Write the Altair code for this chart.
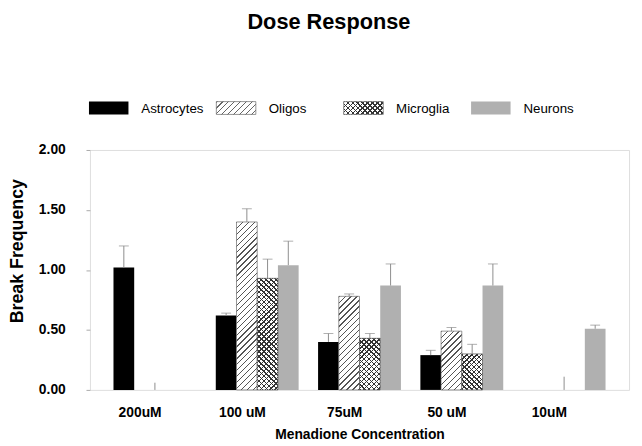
import altair as alt
import pandas as pd
import numpy as np

# ---------------- data ----------------
doses = ["200uM", "100 uM", "75uM", "50 uM", "10uM"]
series = ["Astrocytes", "Oligos", "Microglia", "Neurons"]
astro_mean = [1.02, 0.62, 0.40, 0.29, None]
astro_err = [0.18, 0.02, 0.07, 0.04, None]
oligos_mean = [None, 1.40, 0.78, 0.49, None]
oligos_err = [None, 0.11, 0.02, 0.03, None]
microglia_mean = [None, 0.93, 0.43, 0.30, None]
microglia_err = [None, 0.16, 0.04, 0.08, None]
neurons_mean = [None, 1.04, 0.87, 0.87, 0.51]
neurons_err = [None, 0.20, 0.18, 0.18, 0.03]
stray_doses = ["200uM", "10uM"]
stray_values = [0.06, 0.11]
y_ticks = [0.0, 0.5, 1.0, 1.5, 2.0]

means = {"Astrocytes": astro_mean, "Oligos": oligos_mean,
         "Microglia": microglia_mean, "Neurons": neurons_mean}
errs = {"Astrocytes": astro_err, "Oligos": oligos_err,
        "Microglia": microglia_err, "Neurons": neurons_err}

rows = []
for s in series:
    for d, m, e in zip(doses, means[s], errs[s]):
        if m is not None:
            rows.append({"dose": d, "series": s, "mean": m, "upper": m + e})
df = pd.DataFrame(rows)
stray_df = pd.DataFrame({"dose": stray_doses, "v": stray_values, "v0": [0.0] * len(stray_values)})

# ---------------- layout constants ----------------
W, H = 546, 243
PAD_IN, PAD_OUT = 0.19, 0.23
step = W / (len(doses) - PAD_IN + 2 * PAD_OUT)
bar_w = step * (1 - PAD_IN) / len(series)
FONT = "Liberation Sans"
GRAY_BAR = "#b0b0b0"
ERR_COL = "#8c8c8c"


def hatch(w, h, period, frac, line, bg, direction):
    """Linear gradient that draws diagonal stripes inside a w x h box."""
    total = w + h
    n = int(np.ceil(total / period))
    stops = []
    for k in range(n):
        a = min(k * period / total, 1)
        b = min((k * period + period * frac) / total, 1)
        c = min((k + 1) * period / total, 1)
        stops += [{"offset": a, "color": line}, {"offset": b, "color": line},
                  {"offset": b, "color": bg}, {"offset": c, "color": bg}]
    cc = w * (w + h) / (w * w + h * h)
    if direction == "/":
        x1, y1, x2, y2 = 0, 0, cc, cc * h / w
    else:
        x1, y1, x2, y2 = 0, 1, cc, 1 - cc * h / w
    return {"gradient": "linear", "x1": x1, "y1": y1, "x2": x2, "y2": y2, "stops": stops}


# ---------------- main chart ----------------
x_enc = alt.X("dose:N", sort=doses,
              scale=alt.Scale(domain=doses, paddingInner=PAD_IN, paddingOuter=PAD_OUT),
              axis=alt.Axis(title="Menadione Concentration", labelAngle=0, labelFontSize=14,
                            labelFontWeight="bold", labelFont=FONT, labelColor="black",
                            labelPadding=16, labelOffset=-15, ticks=False, domain=False,
                            titleFontSize=14, titleFontWeight="bold", titleFont=FONT,
                            titleColor="black", titlePadding=8))
xo_enc = alt.XOffset("series:N", scale=alt.Scale(domain=series, paddingInner=0, paddingOuter=0))
y_axis = alt.Axis(values=y_ticks, format=".2f", title="Break Frequency", grid=False,
                  domain=False, tickSize=4, tickColor="#aaaaaa", labelFontSize=14,
                  labelFontWeight="bold", labelFont=FONT, labelColor="black", labelPadding=21,
                  titleFontSize=18, titleFontWeight="bold", titleFont=FONT, titleColor="black",
                  titleX=-73, titleY=102, titleAngle=270, titleAlign="center",
                  titleBaseline="middle")
y_scale = alt.Scale(domain=[0, 2], nice=False, zero=True)


def ymean():
    return alt.Y("mean:Q", scale=y_scale, axis=y_axis)


base = alt.Chart(df)
layers = []
solid = base.transform_filter(
    alt.FieldOneOfPredicate(field="series", oneOf=["Astrocytes", "Neurons"])
).mark_bar().encode(
    x=x_enc, xOffset=xo_enc, y=ymean(),
    color=alt.Color("series:N", scale=alt.Scale(domain=["Astrocytes", "Neurons"],
                                                range=["black", GRAY_BAR]), legend=None))
layers.append(solid)

for _, r in df.iterrows():
    h = r["mean"] / 2 * H
    flt = (alt.datum.series == r["series"]) & (alt.datum.dose == r["dose"])
    if r["series"] == "Oligos":
        g = hatch(bar_w, h, 6, 0.22, "#555555", "white", "/")
        layers.append(base.transform_filter(flt).mark_bar(
            fill=g, stroke="#666666", strokeWidth=0.7).encode(x=x_enc, xOffset=xo_enc, y=ymean()))
    elif r["series"] == "Microglia":
        g1 = hatch(bar_w, h, 5, 0.3, "#333333", "white", "/")
        g2 = hatch(bar_w, h, 5, 0.3, "#333333", "rgba(255,255,255,0)", "\\")
        layers.append(base.transform_filter(flt).mark_bar(fill=g1).encode(
            x=x_enc, xOffset=xo_enc, y=ymean()))
        layers.append(base.transform_filter(flt).mark_bar(
            fill=g2, stroke="#555555", strokeWidth=0.7).encode(x=x_enc, xOffset=xo_enc, y=ymean()))

err_rule = base.mark_rule(color=ERR_COL, strokeWidth=1).encode(
    x=x_enc, xOffset=xo_enc, y=ymean(), y2="upper:Q")
err_cap = base.mark_tick(orient="horizontal", size=10, thickness=1, color=ERR_COL).encode(
    x=x_enc, xOffset=xo_enc, y=alt.Y("upper:Q", scale=y_scale, axis=y_axis))
stray = alt.Chart(stray_df).mark_rule(color=ERR_COL, strokeWidth=1).encode(
    x=x_enc, y=alt.Y("v0:Q", scale=y_scale, axis=y_axis), y2="v:Q")
layers += [err_rule, err_cap, stray]

main = alt.layer(*layers).properties(width=W, height=H)

# ---------------- legend panel ----------------
leg_df = pd.DataFrame({"series": series, "idx": list(range(len(series)))})
LEG_STEP = 129
LEG_FIRST = 19
SW, SH = 40, 13
lo = -LEG_FIRST / LEG_STEP
hi = lo + W / LEG_STEP
half = SW / 2 / LEG_STEP
lscale = alt.Scale(domain=[lo, hi], nice=False, zero=False)
leg_fills = {
    "Astrocytes": ["black"],
    "Oligos": [hatch(SW, SH, 6, 0.2, "#666666", "white", "/")],
    "Microglia": [hatch(SW, SH, 5, 0.3, "#333333", "white", "/"),
                  hatch(SW, SH, 5, 0.3, "#333333", "rgba(255,255,255,0)", "\\")],
    "Neurons": [GRAY_BAR],
}
leg_layers = []
for s in series:
    fills = leg_fills[s]
    for j, f in enumerate(fills):
        kw = {}
        if s in ("Oligos", "Microglia") and j == len(fills) - 1:
            kw = {"stroke": "#666666", "strokeWidth": 0.7}
        leg_layers.append(
            alt.Chart(leg_df).transform_filter(alt.datum.series == s)
            .transform_calculate(x0=f"datum.idx - {half}", x1=f"datum.idx + {half}")
            .mark_rect(fill=f, **kw)
            .encode(x=alt.X("x0:Q", scale=lscale, axis=None), x2="x1:Q",
                    y=alt.value(0), y2=alt.value(SH)))
leg_text = alt.Chart(leg_df).mark_text(
    align="left", baseline="middle", dx=33, fontSize=13.5, font=FONT, color="black"
).encode(x=alt.X("idx:Q", scale=lscale, axis=None), y=alt.value(SH / 2 + 1), text="series:N")
leg_layers.append(leg_text)
legend = alt.layer(*leg_layers).properties(
    width=W, height=SH, view=alt.ViewBackground(stroke="transparent"))

chart = alt.vconcat(legend, main, spacing=26).properties(
    title=alt.TitleParams(text="Dose Response", fontSize=22, fontWeight="bold", font=FONT,
                          color="black", anchor="middle", offset=68, dx=10),
    padding={"top": 0, "left": 0, "right": 4, "bottom": 0},
).configure_view(stroke="#c4c4c4", strokeWidth=1).configure(font=FONT)

chart.save("out.html", embed_options={"renderer": "svg", "actions": False})
